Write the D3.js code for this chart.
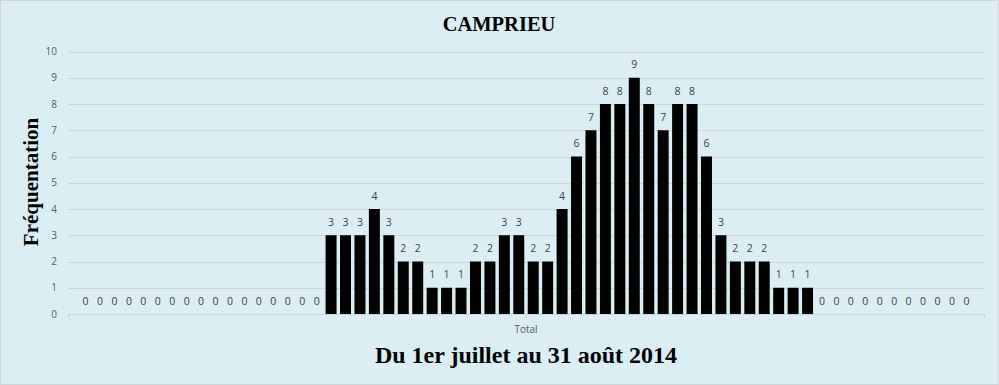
<!DOCTYPE html>
<html>
<head>
<meta charset="utf-8">
<script src="https://cdn.jsdelivr.net/npm/d3@7"></script>
<style>
  html, body { margin: 0; padding: 0; background: #fff; }
  svg { display: block; }
</style>
</head>
<body>
<div id="chart"></div>
<script>
// daily attendance, 1 July -> 31 August 2014 (62 days)
var valeurs = [
    0, 0, 0, 0, 0, 0, 0, 0, 0, 0, 0, 0, 0, 0, 0, 0, 0,
    3, 3, 3, 4, 3, 2, 2, 1, 1, 1, 2, 2, 3, 3, 2, 2,
    4, 6, 7, 8, 8, 9, 8, 7, 8, 8, 6, 3, 2, 2, 2, 1, 1, 1,
    0, 0, 0, 0, 0, 0, 0, 0, 0, 0, 0
];
var categorie = ["Total"];
var yTicks = [0, 1, 2, 3, 4, 5, 6, 7, 8, 9, 10];
var titre = "CAMPRIEU";
var titreY = "Fréquentation";
var titreX = "Du 1er juillet au 31 août 2014";

var width = 999, height = 385;
var plotLeft = 68, plotRight = 984, plotTop = 51.5, plotBottom = 314;

var svg = d3.select("#chart")
    .append("svg")
    .attr("width", width)
    .attr("height", height);

svg.append("rect")
    .attr("x", 0.5).attr("y", 0.5)
    .attr("width", width - 1).attr("height", height - 1)
    .attr("fill", "#dbeef4")
    .attr("stroke", "#d4d4d4");

var y = d3.scaleLinear().domain([0, 10]).range([plotBottom, plotTop]);

var xCat = d3.scaleBand().domain(categorie).range([plotLeft, plotRight]);

var x = d3.scaleBand()
    .domain(d3.range(valeurs.length))
    .range([plotLeft, plotRight])
    .paddingInner(0.24)
    .paddingOuter(0.84);

// gridlines
svg.append("g")
    .selectAll("line")
    .data(yTicks.filter(function (d) { return d > 0; }))
    .enter()
    .append("line")
    .attr("x1", plotLeft).attr("x2", plotRight)
    .attr("y1", function (d) { return Math.round(y(d)) + 0.5; })
    .attr("y2", function (d) { return Math.round(y(d)) + 0.5; })
    .style("stroke", "#d4d4d4")
    .style("stroke-width", 1);

// y tick labels
svg.append("g")
    .selectAll("text")
    .data(yTicks)
    .enter()
    .append("text")
    .attr("x", plotLeft - 11)
    .attr("y", function (d) { return y(d); })
    .attr("dy", "0.35em")
    .attr("text-anchor", "end")
    .style("font-family", "'Open Sans', sans-serif")
    .style("font-size", "10px")
    .style("fill", "#595959")
    .text(function (d) { return d; });

// bars
svg.append("g")
    .selectAll("rect")
    .data(valeurs)
    .enter()
    .append("rect")
    .attr("x", function (d, i) { return x(i); })
    .attr("y", function (d) { return y(d); })
    .attr("width", x.bandwidth())
    .attr("height", function (d) { return y(0) - y(d); })
    .attr("fill", "#000");

// data labels
svg.append("g")
    .selectAll("text")
    .data(valeurs)
    .enter()
    .append("text")
    .attr("x", function (d, i) { return x(i) + x.bandwidth() / 2; })
    .attr("y", function (d) { return y(d) - 13; })
    .attr("dy", "0.35em")
    .attr("text-anchor", "middle")
    .style("font-family", "'Open Sans', sans-serif")
    .style("font-size", "10.5px")
    .style("fill", "#404040")
    .text(function (d) { return d; });

// x axis line with ticks
var axisY = Math.round(y(0)) + 0.5;
svg.append("line")
    .attr("x1", plotLeft).attr("x2", plotRight)
    .attr("y1", axisY).attr("y2", axisY)
    .style("stroke", "#d4d4d4");
svg.append("g")
    .selectAll("line")
    .data([plotLeft, xCat(categorie[0]) + xCat.bandwidth() / 2, plotRight])
    .enter()
    .append("line")
    .attr("x1", function (d) { return Math.round(d) + 0.5; })
    .attr("x2", function (d) { return Math.round(d) + 0.5; })
    .attr("y1", axisY).attr("y2", axisY + 4)
    .style("stroke", "#d4d4d4");

svg.append("text")
    .attr("x", xCat(categorie[0]) + xCat.bandwidth() / 2)
    .attr("y", 329)
    .attr("dy", "0.35em")
    .attr("text-anchor", "middle")
    .style("font-family", "'Open Sans', sans-serif")
    .style("font-size", "10px")
    .style("fill", "#595959")
    .text(categorie[0]);

// titles
svg.append("text")
    .attr("x", 499)
    .attr("y", 31)
    .attr("text-anchor", "middle")
    .style("font-family", "'Liberation Serif', serif")
    .style("font-weight", "bold")
    .style("font-size", "20.5px")
    .style("fill", "#000")
    .text(titre);

svg.append("text")
    .attr("transform", "translate(38,182) rotate(-90)")
    .attr("text-anchor", "middle")
    .style("font-family", "'Liberation Serif', serif")
    .style("font-weight", "bold")
    .style("font-size", "21px")
    .style("fill", "#000")
    .text(titreY);

svg.append("text")
    .attr("x", 526)
    .attr("y", 363)
    .attr("text-anchor", "middle")
    .style("font-family", "'Liberation Serif', serif")
    .style("font-weight", "bold")
    .style("font-size", "24px")
    .style("fill", "#000")
    .text(titreX);
</script>
</body>
</html>
